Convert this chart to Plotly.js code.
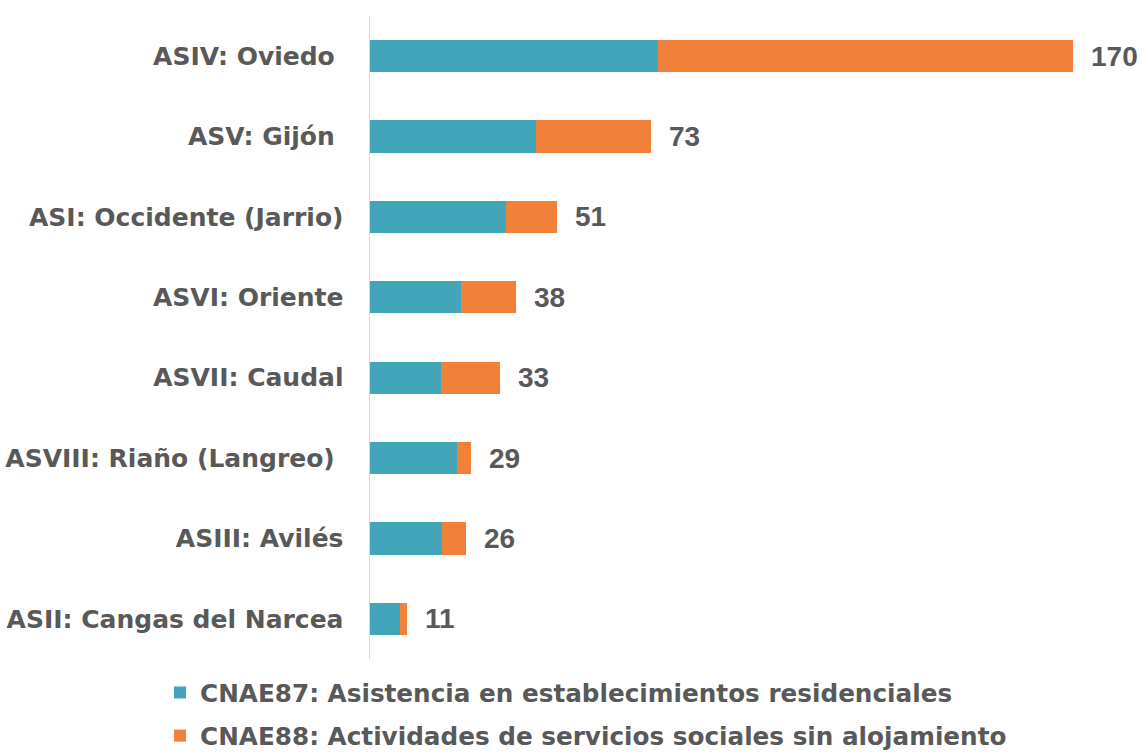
<!DOCTYPE html>
<html>
<head>
<meta charset="utf-8">
<script src="https://cdn.plot.ly/plotly-3.0.1.min.js"></script>
<style>html,body{margin:0;padding:0;background:#fff;}#chart{width:1142px;height:752px;}</style>
</head>
<body>
<div id="chart"></div>
<script>
// Categories, top to bottom
var categories = [
  "ASIV: Oviedo\u00a0",
  "ASV: Gijón\u00a0",
  "ASI: Occidente (Jarrio)",
  "ASVI: Oriente",
  "ASVII: Caudal",
  "ASVIII: Riaño (Langreo)\u00a0",
  "ASIII: Avilés",
  "ASII: Cangas del Narcea"
];
// Segment lengths as drawn
var cnae87 = [69.6, 40.2, 32.8, 22.1, 17.1, 21.0, 17.3, 7.2];
var cnae88 = [100.4, 27.6, 12.4, 13.1, 14.3, 3.4, 6.0, 1.7];
// Total labels as printed
var totalLabels = ["170", "73", "51", "38", "33", "29", "26", "11"];

var seriesNames = [
  "CNAE87: Asistencia en establecimientos residenciales",
  "CNAE88: Actividades de servicios sociales sin alojamiento"
];

var gray = "#595959";
var traces = [
  {type: "bar", orientation: "h", y: categories, x: cnae87, name: seriesNames[0],
   marker: {color: "#42A5BA"}, legendgroup: "a", hoverinfo: "x+y"},
  {type: "bar", orientation: "h", y: categories, x: cnae88, name: seriesNames[1],
   marker: {color: "#F0803A"}, legendgroup: "b", hoverinfo: "x+y"}
];

var annotations = categories.map(function (c, i) {
  return {
    x: cnae87[i] + cnae88[i], y: c, xref: "x", yref: "y",
    text: totalLabels[i], showarrow: false, xanchor: "left", xshift: 16,
    font: {family: "Liberation Sans, Arial, sans-serif", size: 28, color: gray, weight: 700}
  };
});

var layout = {
  width: 1142, height: 752,
  margin: {l: 370, r: 48, t: 16, b: 93, autoexpand: false},
  paper_bgcolor: "#fff", plot_bgcolor: "#fff",
  barmode: "stack", bargap: 0.6,
  font: {family: "DejaVu Sans, sans-serif", color: gray},
  xaxis: {range: [0, 175], visible: false, showgrid: false, zeroline: false, fixedrange: true},
  yaxis: {
    autorange: "reversed", type: "category",
    showline: true, linecolor: "#D9D9D9", linewidth: 1.5,
    ticks: "", ticklabelstandoff: 20, showgrid: false, zeroline: false,
    tickfont: {family: "DejaVu Sans, sans-serif", size: 25, color: gray, weight: 700}
  },
  showlegend: true,
  legend: {
    orientation: "v", x: -0.29, xanchor: "left", y: -0.017, yanchor: "top",
    font: {family: "DejaVu Sans, sans-serif", size: 24.7, color: gray, weight: 700},
    tracegroupgap: 8, traceorder: "grouped", bgcolor: "rgba(0,0,0,0)"
  },
  annotations: annotations
};

Plotly.newPlot("chart", traces, layout, {displayModeBar: false, staticPlot: true});
</script>
</body>
</html>
